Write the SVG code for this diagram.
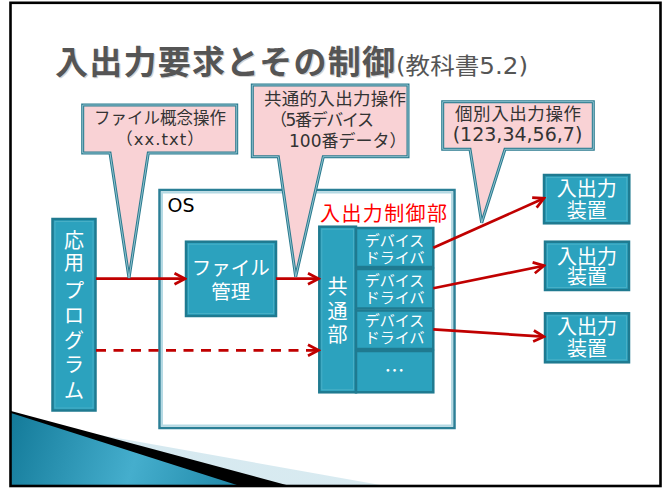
<svg xmlns="http://www.w3.org/2000/svg" width="669" height="488" viewBox="0 0 669 488">
<defs>
<style>
.jp{font-family:"DejaVu Sans","Noto Sans CJK JP",sans-serif;}
.cj{font-family:"Noto Sans CJK JP",sans-serif;}
.box{fill:#2ca2be;stroke:#1f7a90;stroke-width:2.5;}
.inner{fill:none;stroke:#4fb2c9;stroke-width:0.8;}
.wt{fill:#ffffff;font-family:"Noto Sans CJK JP",sans-serif;text-anchor:middle;}
.call{fill:#f9d2d5;stroke:#2a7a8e;stroke-width:3;stroke-linejoin:miter;}
.callin{fill:none;stroke:#9ccbd7;stroke-width:0.9;}
.ct{fill:#333333;}
.arr{stroke:#c00000;stroke-width:2.7;fill:none;}
</style>
<marker id="ah" markerUnits="userSpaceOnUse" viewBox="-12 -8 14 16" refX="0" refY="0" markerWidth="14" markerHeight="16" orient="auto">
<path d="M-10.5,-5.5 L0,0 L-10.5,5.5" fill="none" stroke="#c00000" stroke-width="2.7"/>
</marker>
<linearGradient id="teal" x1="11" y1="413" x2="240" y2="486" gradientUnits="userSpaceOnUse">
<stop offset="0" stop-color="#137a99"/>
<stop offset="0.55" stop-color="#45aecd"/>
<stop offset="1" stop-color="#1f88a8"/>
</linearGradient>
<linearGradient id="light" x1="11" y1="0" x2="386" y2="0" gradientUnits="userSpaceOnUse">
<stop offset="0" stop-color="#d6e9f0" stop-opacity="0"/>
<stop offset="0.35" stop-color="#d6e9f0"/>
<stop offset="1" stop-color="#d9ebf1"/>
</linearGradient>
</defs>
<rect x="0" y="0" width="669" height="488" fill="#ffffff"/>
<g id="background">
<polygon points="11,419 386,486 11,486" fill="url(#light)"/>
<polygon points="11,411 290,486 11,486" fill="#000000"/>
<polygon points="11,413 240,486 11,486" fill="url(#teal)"/>
<rect x="10.5" y="2.8" width="650" height="483.2" fill="none" stroke="#000000" stroke-width="2.6"/>
</g>
<g id="title">
<text x="56.2" y="75.2" class="cj" font-size="33" font-weight="bold" fill="#d4d4d4" textLength="340" lengthAdjust="spacing">入出力要求とその制御</text>
<text x="55" y="74" class="cj" font-size="33" font-weight="bold" fill="#555555" textLength="340" lengthAdjust="spacing">入出力要求とその制御</text>
<text x="396" y="74" class="jp" font-size="23" fill="#555555" textLength="132" lengthAdjust="spacingAndGlyphs">(教科書5.2)</text>
</g>
<g id="os">
<rect x="159.5" y="190" width="295" height="238" fill="#ffffff" stroke="#2b7f96" stroke-width="2.5"/>
<rect x="162" y="192.5" width="290" height="233" fill="none" stroke="#b5dae4" stroke-width="2"/>
<text x="167.5" y="212" font-family="DejaVu Sans,sans-serif" font-size="19" fill="#000000">OS</text>
</g>
<g id="app">
<rect class="box" x="52.5" y="219" width="43" height="191.5"/>
<rect class="inner" x="55" y="221.5" width="38" height="186.5"/>
<text class="wt" font-size="20" x="74" y="247.6">応</text>
<text class="wt" font-size="20" x="74" y="269.6">用</text>
<text class="wt" font-size="20" x="74" y="298.4">プ</text>
<text class="wt" font-size="20" x="74" y="322.6">ロ</text>
<text class="wt" font-size="20" x="74" y="347.6">グ</text>
<text class="wt" font-size="20" x="74" y="371.6">ラ</text>
<text class="wt" font-size="20" x="74" y="397.6">ム</text>
</g>
<g id="filemgmt">
<rect class="box" x="186" y="241.7" width="90" height="74.3"/>
<rect class="inner" x="188.5" y="244.2" width="85" height="69.3"/>
<text class="wt" font-size="19.5" x="230.7" y="275">ファイル</text>
<text class="wt" font-size="19.5" x="230.7" y="298.5">管理</text>
</g>
<g id="iocontrol">
<text x="320" y="221" class="cj" font-size="20" fill="#ff0000" textLength="127" lengthAdjust="spacing">入出力制御部</text>
<rect class="box" x="319.3" y="226.7" width="36.7" height="165.6"/>
<rect class="inner" x="321.8" y="229.2" width="31.7" height="160.6"/>
<text class="wt" font-size="20" x="337.6" y="293.6">共</text>
<text class="wt" font-size="20" x="337.6" y="318.6">通</text>
<text class="wt" font-size="20" x="337.6" y="341.6">部</text>
</g>
<g id="driver1">
<rect class="box" x="356" y="228" width="77.3" height="39"/>
<text class="wt" font-size="15" x="394.6" y="245.7">デバイス</text>
<text class="wt" font-size="15" x="394.6" y="263.2">ドライバ</text>
</g>
<g id="driver2">
<rect class="box" x="356" y="269" width="77.3" height="39.5"/>
<text class="wt" font-size="15" x="394.6" y="285.7">デバイス</text>
<text class="wt" font-size="15" x="394.6" y="302.7">ドライバ</text>
</g>
<g id="driver3">
<rect class="box" x="356" y="310.5" width="77.3" height="38.5"/>
<text class="wt" font-size="15" x="394.6" y="326.2">デバイス</text>
<text class="wt" font-size="15" x="394.6" y="343.2">ドライバ</text>
</g>
<g id="driver4">
<rect class="box" x="356" y="351" width="77.3" height="41.3"/>
<text class="wt" font-size="20" x="394.6" y="377.6">…</text>
</g>
<g id="device1">
<rect class="box" x="544" y="175" width="85.3" height="48.3"/>
<rect class="inner" x="546.5" y="177.5" width="80.3" height="43.3"/>
<text class="wt" font-size="20" x="586.7" y="196.3">入出力</text>
<text class="wt" font-size="20" x="586.7" y="218.4">装置</text>
</g>
<g id="device2">
<rect class="box" x="545" y="241.7" width="84" height="48.3"/>
<rect class="inner" x="547.5" y="244.2" width="79" height="43.3"/>
<text class="wt" font-size="20" x="587" y="263.6">入出力</text>
<text class="wt" font-size="20" x="587" y="284.1">装置</text>
</g>
<g id="device3">
<rect class="box" x="545" y="313.3" width="84" height="49"/>
<rect class="inner" x="547.5" y="315.8" width="79" height="44"/>
<text class="wt" font-size="20" x="587" y="334.3">入出力</text>
<text class="wt" font-size="20" x="587" y="355.9">装置</text>
</g>
<g id="connectors">
<line class="arr" x1="96" y1="278.7" x2="185" y2="278.7" marker-end="url(#ah)"/>
<line class="arr" x1="276" y1="278.7" x2="318.5" y2="278.7" marker-end="url(#ah)"/>
<line class="arr" x1="96" y1="350.3" x2="318.5" y2="350.3" stroke-dasharray="10 7.5" marker-end="url(#ah)"/>
<line class="arr" x1="433.3" y1="247.7" x2="544" y2="198.3" marker-end="url(#ah)"/>
<line class="arr" x1="433.3" y1="288.3" x2="544" y2="265.7" marker-end="url(#ah)"/>
<line class="arr" x1="433.3" y1="329.3" x2="544" y2="336.7" marker-end="url(#ah)"/>
</g>
<g id="callout1">
<path class="call" d="M82.7,105 H236.7 V153 H148.3 L129,278 L110,153 H82.7 Z"/>
<path class="callin" d="M82.7,105 H236.7 V153 H148.3 L129,278 L110,153 H82.7 Z"/>
<text class="jp ct" font-size="16.5" x="160" y="124" text-anchor="middle">ファイル概念操作</text>
<text class="jp ct" font-size="16.5" x="160.5" y="145" text-anchor="middle" letter-spacing="1">（xx.txt）</text>
</g>
<g id="callout2">
<path class="call" d="M252.3,85 H408 V156.7 H323.3 L295.7,276.7 L278.3,156.7 H252.3 Z"/>
<path class="callin" d="M252.3,85 H408 V156.7 H323.3 L295.7,276.7 L278.3,156.7 H252.3 Z"/>
<text class="jp ct" font-size="17.5" x="264" y="105" textLength="142" lengthAdjust="spacing">共通的入出力操作</text>
<text class="jp ct" font-size="17" x="270" y="126" textLength="104" lengthAdjust="spacing">（5番デバイス</text>
<text class="jp ct" font-size="17" x="289" y="147">100番データ）</text>
</g>
<g id="callout3">
<path class="call" d="M442.7,101.7 H593.3 V149.3 H505 L481.7,222.7 L470,149.3 H442.7 Z"/>
<path class="callin" d="M442.7,101.7 H593.3 V149.3 H505 L481.7,222.7 L470,149.3 H442.7 Z"/>
<text class="jp ct" font-size="17.5" x="455" y="119.5" textLength="126" lengthAdjust="spacing">個別入出力操作</text>
<text class="jp ct" font-size="19" x="517.5" y="141" text-anchor="middle">(123,34,56,7)</text>
</g>
</svg>
